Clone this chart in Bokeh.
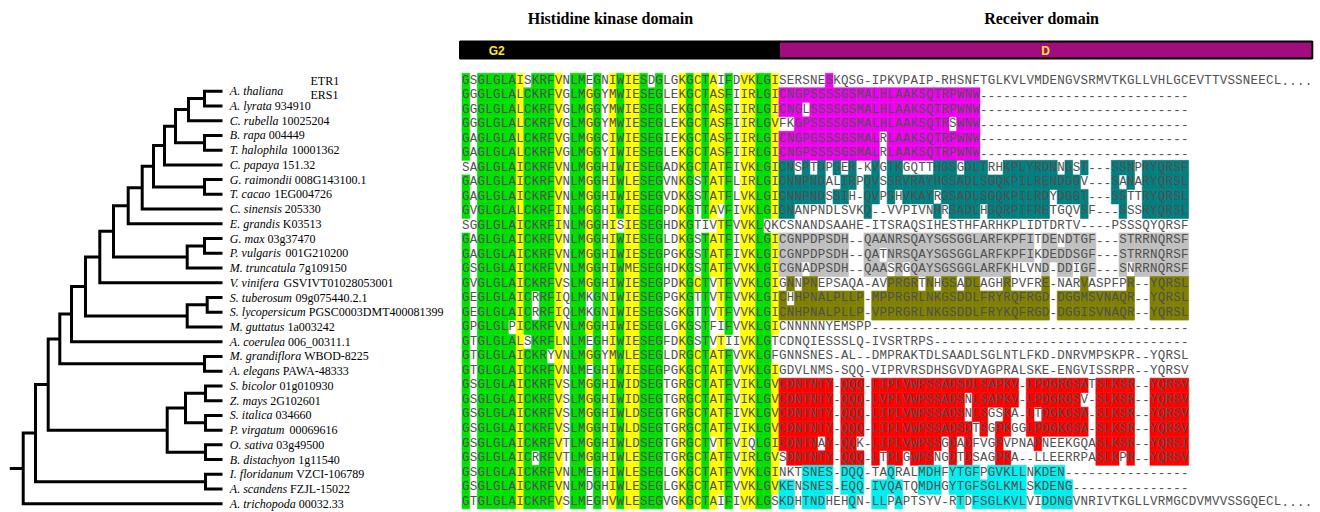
import re
from collections import Counter
from bokeh.plotting import figure
from bokeh.models import Range1d, ColumnDataSource
from bokeh.embed import file_html
from bokeh.resources import INLINE
from bokeh.core.properties import value

# ---------------------------------------------------------------- data
SPECIES = ["A. thaliana", "A. lyrata", "C. rubella", "B. rapa", "T. halophila",
           "C. papaya", "G. raimondii", "T. cacao", "C. sinensis", "E. grandis",
           "G. max", "P. vulgaris", "M. truncatula", "V. vinifera", "S. tuberosum",
           "S. lycopersicum", "M. guttatus", "A. coerulea", "M. grandiflora",
           "A. elegans", "S. bicolor", "Z. mays", "S. italica", "P. virgatum",
           "O. sativa", "B. distachyon", "I. floridanum", "A. scandens",
           "A. trichopoda"]
ACCESSIONS = ["", "934910", "10025204", "004449", "10001362", "151.32",
              "008G143100.1", "1EG004726", "205330", "K03513", "03g37470",
              "001G210200", "7g109150", "GSVIVT01028053001", "09g075440.2.1",
              "PGSC0003DMT400081399", "1a003242", "006_00311.1", "WBOD-8225",
              "PAWA-48333", "01g010930", "2G102601", "034660", "00069616",
              "03g49500", "1g11540", "VZCI-106789", "FZJL-15022", "00032.33"]
PARALOGS = ["ETR1", "ERS1"]

# leaves are indices into SPECIES, branch lengths in tree units
TREE_NEWICK = ("(((((((((((((((0:18,1:18):16,2:34):13,(3:18,4:18):29):11,5:58):11,"
               "(6:18,7:18):51):11.3,8:80.3):14,9:94.3):14.7,((10:18,11:18):17.3,"
               "12:35.3):73.7):13.7,13:122.7):14.3,((14:15.3,15:15.3):20,16:35.3)"
               ":101.7):14,17:151):11.7,(18:18,19:18):144.7):11.6,(((20:17,21:17)"
               ":20,(22:17,23:17):20):18.3,(24:17,25:17):38.3):119):12.7,"
               "(26:17,27:17):170):12.3,28:199.3);")

HK_SEQS = [
    "GSGLGLAISKRFVNLMEGNIWIESDGLGKGCTAIFDVKLGI",
    "GGGLGLALCKRFVGLMGGYMWIESEGLEKGCTASFIIRLGI",
    "GGGLGLALCKRFVGLMGGYMWIESEGLEKGCTASFIIRLGI",
    "GGGLGLALCKRFVGLMGGYMWIESEGLEKGCTASFIIRLGV",
    "GAGLGLALCKRFVGLMGGCIWIESEGIEKGCTASFIIRLGI",
    "GAGLGLALCKRFVGLMGGYIWIESEGLEKGCTASFIIRLGI",
    "SAGLGLAICKRFVNLMGGHIWIESEGADKGCTATFIVKLGI",
    "GAGLGLAICKRFVNLMGGHIWLESEGVNKGSTATFLIRLGI",
    "GAGLGLAICKRFVNLMGGHIWIESEGVDKGSTATFLVKLGI",
    "GVGLGLALCKRFINLMGGHIWIESEGPDKGTTAVFIVKLGI",
    "SGGLGLAICKRFINLMGGHISIESEGHDKGTIVTFVVKLQK",
    "GAGLGLAICKRFVNLMGGHIWIESEGLDKGSTATFIVKLGI",
    "GAGLGLAICKRFVNLMGGHIWIESEGPGKGSTATFIVKLGI",
    "GSGLGLAICKRFVNLMGGHIWMESEGHDKGSTATFVVKLGI",
    "GVGLGLAICKRFVSLMGGHIWIESEGPDKGCTVTFVVKLGI",
    "GEGLGLAICRRFIQLMKGNIWIESEGPGKGTTVTFVVKLGI",
    "GEGLGLAICRRFIQLMKGNIWIESEGSGKGTTVTFVVKLGI",
    "GPGLGLPICKRFVNLMGGHIWIESEGLGKGSTFIFVVKLGI",
    "GTGLGLALSKRFLNLMEGHIWIESEGFDKGSTVTIIVKLGT",
    "GTGLGLAICKRYVNLMGGYMWLESEGLDRGCTATFVVKLGF",
    "GTGLGLAICKRFVNLMEGHIWIESEGPGKGCTATFVVKLGI",
    "GSGLGLAICKRFVSLMGGHIWIDSEGTGRGCTATFVIKLGV",
    "GSGLGLAICKRFVSLMGGHIWIDSEGTGRGCTATFVIKLGV",
    "GSGLGLAICKRFVSLMGGHIWLDSEGTGRGCTATFIVKLGV",
    "GSGLGLAICKRFVSLMGGHIWLDSEGTGRGCTATFVIKLGV",
    "GSGLGLAICKRFVTLMGGHIWLDSEGTGRGCTVTFVIQLGI",
    "GSGLGLAICRRFVTLMGGHIWLESEGTGRGCTATFVIRLGV",
    "GSGLGLAICKRFVNLMEGHIWLESEGLGKGCTATFVVKLGI",
    "GSGLGLAICKRFVNLMDGHIWLESEGLGKGCTATFVVKLGV",
    "GTGLGLAICKRFVSLMEGHVWLESEGVGKGCTAIFIVKLGS",
]
RC_SEQS = [
    "SERSNESKQSG-IPKVPAIP-RHSNFTGLKVLVMDENGVSRMVTKGLLVHLGCEVTTVSSNEECL....",
    "CNGPSSSSGSMALHLAAKSQTRPWNW" + "-" * 27,
    "CNGLSSSSGSMALHLAAKSQTRPWNW" + "-" * 27,
    "FKGPSSSSGSMALHLAAKSQTRSWNW" + "-" * 27,
    "CNGPGSSSGSMALRLAAKSQTRPWNW" + "-" * 27,
    "CNGPSSSSGSMALRLAAKSQTRPWNW" + "-" * 27,
    "CNSPTDPSER-KVGTKGQTTHGSGDLTRHKPLYRDNNGST---SSNPRYQRSF",
    "CNNPNDALIRPQVSSRVRAYHGSADLSGQKPILRENDGGV---SANARYQRSL",
    "CNNPNDSSIH-QVPSHVKAYRGSADLSGQKPILRDYDGGT---SSTTRYQRSL",
    "CNANPNDLSVKQ--VVPIVNHRSADLHGQRPIFRETGQVSF---SSSRYQRSL",
    "CSNANDSAAHE-ITSRAQSIHESTHFARHKPLIDTDRTV----PSSSQYQRSF",
    "CGNPDPSDH--QAANRSQAYSGSGGLARFKPFITDENDTGF---STRRNQRSF",
    "CGNPDPSDH--QATNRSQAYSGSGGLARFKPFIKDEDDSGF---STRRNQRSF",
    "CGNADPSDH--QAASRGQAYSGSGGLARFKHLVND-DDIGF---SNRRNQRSF",
    "GNNPNEPSAQA-AVPRGRTNHGSADLAGHRPVFRE-NARVASPFPR--YQRSL",
    "CHHPNALPLLP-MPPRGRLNKGSDDLFRYRQFRGD-DGGMSVNAQR--YQRSL",
    "CNHPNALPLLP-VPPRGRLNKGSDDLFRYKQFRGD-DGGISVNAQR--YQRSL",
    "CNNNNNYEMSPP" + "-" * 41,
    "CDNQIESSSLQ-IVSRTRPS" + "-" * 33,
    "GNNSNES-AL--DMPRAKTDLSAADLSGLNTLFKD-DNRVMPSKPR--YQRSL",
    "GDVLNMS-SQQ-VIPRVRSDHSGVDYAGPRALSKE-ENGVISSRPR--YQRSV",
    "CDNTNTY-QQQ-LIPLVWPSSADSDLSAPKV-LPDGRGSATSLKSR--YQRSV",
    "CDNTNTY-QQQ-LVPLVWPSSADSNLSAPKV-LPDGRGSV-SLKSR--YQRSV",
    "CDNTNTY-QQQ-LIPLVWPSSADSNLSGSKA-LTDGKGSA-SLKSR--YQRSV",
    "CDNTNTY-QQQ-LIPLVWPSSADSDTSGPKGGLPDGKGSA-SLKSR--YQRSV",
    "CDNTNAY-QQK-LIPLVWPSSGDADFVGPVPNAPNEEKGQASLKSR--YQRSI",
    "SDNTNTY-QQQ-LTPLGWPSNGDTDSAGPKA--LLEERRPASLKPR--YQRSV",
    "NKTSNES-DQQ-TAQRALMDHFYTGFPGVKLLNKDEN" + "-" * 16,
    "KENSNES-EQQ-IVQATQMDHGYTGFSGLKMLSKDENG" + "-" * 15,
    "KDHTNDHEHQN-LLPAPTSYV-RTDFSGLKVLVIDDNGVNRIVTKGLLVRMGCDVMVVSSGQECL....",
]
# shading class of each kinase-domain column: G = identical, Y = similar, W = none
HK_COLUMN_CLASS = "GWGGGGGYGGGGYWGGYGWYGYYGGGWWYGYGYYGWYYGGY"
SIMILAR_GROUPS = ["ILVM", "KR", "DE", "ST", "FYW", "NQ"]
# receiver-domain subfamily shading: group of each row and the shaded residues
RC_GROUP = (["magenta"] * 6 + ["teal"] * 4 + [None] + ["gray"] * 3 + ["olive"] * 3
            + [None] * 4 + ["red"] * 6 + ["cyan"] * 3)
RC_MASKS = [
    "6", "0-25", "0-2,4-25", "2-21,23-25", "0-12,14-25", "0-12,14-25",
    "0-1,3,5,7,9,12,14-15,20-22,24-26,29-35,37,39,43-45,47-52",
    "0-5,8-9,11-12,14-38,43,45,47-52",
    "0-5,7-8,11-12,14,16-19,21-34,36-39,43-44,47-52",
    "0-1,11,20,22-25,27-34,39,44,47-52",
    "",
    "0-8,11-32,34-35,37-40,44-52",
    "0-8,11-12,14-32,34-40,44-52",
    "0-2,4-8,11-13,15,17-29,34,36-37,39-40,44,46-52",
    "1,3-4,14-17,19,21-22,24-25,29,34,39,45,48-52",
    "0,2-10,12-34,36-45,48-52",
    "0-10,12-34,36-45,48-52",
    "", "", "", "",
    "0-6,8-10,12-30,32-39,41-45,48-52",
    "0-6,8-10,12-23,25-30,32-38,41-45,48-52",
    "0-6,8-10,12-23,25-26,29,32,34-39,41-45,48-52",
    "0-6,8-10,12-24,26,28-29,32-39,41-45,48-52",
    "0-4,6,8-9,12-20,22,24,28,33,41-45,48-52",
    "1-6,8-10,12,14-15,17-19,22,24,28-29,41-43,45,48-52",
    "3-6,8-10,14,18-20,22-25,27-31,33-36",
    "0-1,3-6,8-10,12-15,18-20,22-31,33-37",
    "0-1,3-5,9,12-13,15,23,25-31,34-37",
]
DOMAIN_TITLES = ["Histidine kinase domain", "Receiver domain"]
DOMAIN_COLS = [(0, 40), (41, 109)]
DOMAIN_TITLE_COL = [19.2, 75.0]
MOTIF_LABELS = ["G2", "D"]
MOTIF_COLS = [(2, 6), (75, 75)]

# ---------------------------------------------------------------- style / layout
W, H = 1320, 512
X0, CW = 461.5, 7.73          # alignment origin and column width
Y0, RH = 80.0, 14.52           # first row centre and row height
LEAF_Y0, LEAF_DY = 90.7, 14.736
ROOT_X, STUB = 22.7, 13.4
LABEL_X = 229.3
LABEL_PX = 12
BAR_TOP, BAR_BOT = 41.0, 58.0
TEXT_GRAY = "#505050"
GREEN, YELLOW = "#00e000", "#ffff00"
GROUP_COLORS = {"magenta": "#f000f0", "teal": "#008080", "gray": "#c0c0c0",
                "olive": "#808000", "red": "#ff0000", "cyan": "#00eeee"}
DOMAIN_FILL = ["#000000", "#a20c7f"]

# Times-italic advance widths (1/1000 em) for placing accession after the name
TIMES_ITALIC = {' ': 250, '.': 250, 'A': 611, 'B': 611, 'C': 667, 'E': 611, 'G': 722,
                'I': 333, 'M': 833, 'O': 722, 'P': 611, 'S': 500, 'T': 556, 'V': 611,
                'Z': 556, 'a': 500, 'b': 500, 'c': 444, 'd': 500, 'e': 444, 'f': 278,
                'g': 500, 'h': 500, 'i': 278, 'j': 278, 'k': 444, 'l': 278, 'm': 722,
                'n': 500, 'o': 500, 'p': 500, 'q': 500, 'r': 389, 's': 389, 't': 278,
                'u': 500, 'v': 444, 'w': 667, 'x': 444, 'y': 444, 'z': 389}


def text_width(s, px):
    return sum(TIMES_ITALIC.get(ch, 500) for ch in s) * px / 1000.0


def parse_newick(s):
    pos = 0

    def node():
        nonlocal pos
        n = {"children": [], "leaf": None, "bl": 0.0}
        if s[pos] == "(":
            pos += 1
            while True:
                n["children"].append(node())
                if s[pos] == ",":
                    pos += 1
                else:
                    pos += 1
                    break
        else:
            m = re.match(r"[^:,();]+", s[pos:])
            n["leaf"] = int(m.group(0))
            pos += m.end()
        if pos < len(s) and s[pos] == ":":
            m = re.match(r":([0-9.]+)", s[pos:])
            n["bl"] = float(m.group(1))
            pos += m.end()
        return n

    return node()


def place(n, x):
    n["x"] = x
    if n["leaf"] is not None:
        n["y"] = LEAF_Y0 + n["leaf"] * LEAF_DY
    else:
        for c in n["children"]:
            place(c, x + c["bl"])
        n["y"] = (n["children"][0]["y"] + n["children"][-1]["y"]) / 2.0


def parse_spec(spec):
    out = set()
    for part in spec.split(","):
        if not part:
            continue
        if "-" in part:
            a, b = part.split("-")
            out.update(range(int(a), int(b) + 1))
        else:
            out.add(int(part))
    return out


def similar(a, b):
    return any(a in g and b in g for g in SIMILAR_GROUPS)


p = figure(width=W, height=H, x_range=Range1d(0, W), y_range=Range1d(H, 0),
           output_backend="svg", toolbar_location=None, min_border=0,
           x_axis_location=None, y_axis_location=None)
p.grid.visible = False
p.outline_line_color = None
p.background_fill_color = "white"
p.border_fill_color = "white"

# ---------------------------------------------------------------- tree
root = parse_newick(TREE_NEWICK)
place(root, ROOT_X)
xs, ys = [[ROOT_X - STUB, ROOT_X]], [[root["y"], root["y"]]]


def collect(n):
    if n["leaf"] is not None:
        return
    c0, c1 = n["children"][0], n["children"][-1]
    xs.append([c0["x"], n["x"], n["x"], c1["x"]])
    ys.append([c0["y"], c0["y"], c1["y"], c1["y"]])
    for c in n["children"]:
        collect(c)


collect(root)
p.multi_line(xs, ys, line_color="black", line_width=3, line_join="miter", line_cap="butt")

leaf_y = [LEAF_Y0 + i * LEAF_DY for i in range(len(SPECIES))]
p.text(x=[LABEL_X] * len(SPECIES), y=leaf_y, text=SPECIES,
       text_font=value("Liberation Serif"), text_font_style="italic",
       text_font_size=f"{LABEL_PX}px", text_baseline="middle", text_align="left",
       text_color="black")
acc_x = [LABEL_X + text_width(s + " ", LABEL_PX) for s in SPECIES]
p.text(x=acc_x, y=leaf_y, text=ACCESSIONS, text_font=value("Liberation Serif"),
       text_font_size=f"{LABEL_PX}px", text_baseline="middle", text_align="left",
       text_color="black")
p.text(x=[310.0] * len(PARALOGS), y=[Y0 + i * RH for i in range(len(PARALOGS))],
       text=PARALOGS, text_font=value("Liberation Serif"), text_font_size=f"{LABEL_PX}px",
       text_baseline="middle", text_align="left", text_color="black")

# ---------------------------------------------------------------- alignment shading
nhk = len(HK_SEQS[0])
majority = [Counter(s[c] for s in HK_SEQS).most_common(1)[0][0] for c in range(nhk)]
ql, qr, qt, qb, qc = [], [], [], [], []


def add_cell(r, c, color):
    y = Y0 + r * RH
    ql.append(X0 + c * CW)
    qr.append(X0 + (c + 1) * CW)
    qt.append(y - RH / 2)
    qb.append(y + RH / 2)
    qc.append(color)


for r, seq in enumerate(HK_SEQS):
    for c, ch in enumerate(seq):
        cls = HK_COLUMN_CLASS[c]
        if cls == "G" and ch == majority[c]:
            add_cell(r, c, GREEN)
        elif cls == "Y" and (ch == majority[c] or similar(ch, majority[c])):
            add_cell(r, c, YELLOW)

for r, seq in enumerate(RC_SEQS):
    grp = RC_GROUP[r]
    if grp is None:
        continue
    for k in sorted(parse_spec(RC_MASKS[r])):
        if k < len(seq) and seq[k] != "-":
            add_cell(r, nhk + k, GROUP_COLORS[grp])

p.quad(left=ql, right=qr, top=qt, bottom=qb, fill_color=qc, line_color=qc, line_width=0.6)

# ---------------------------------------------------------------- alignment letters
tx, ty, tt = [], [], []
for r in range(len(HK_SEQS)):
    full = HK_SEQS[r] + RC_SEQS[r]
    for c, ch in enumerate(full):
        tx.append(X0 + (c + 0.5) * CW)
        ty.append(Y0 + r * RH)
        tt.append(ch)
p.text(x="x", y="y", text="t", source=ColumnDataSource(dict(x=tx, y=ty, t=tt)),
       text_font=value("Liberation Mono"), text_font_size="12.5px",
       text_color=TEXT_GRAY, text_align="center", text_baseline="middle")

# ---------------------------------------------------------------- domain header
for i, (a, b) in enumerate(DOMAIN_COLS):
    left = X0 + a * CW - (2 if i == 0 else 0)
    p.quad(left=[left], right=[X0 + (b + 1) * CW], top=[BAR_TOP], bottom=[BAR_BOT],
           fill_color=DOMAIN_FILL[i], line_color="black", line_width=2)
p.text(x=[X0 + (a + b + 1) / 2.0 * CW for a, b in MOTIF_COLS],
       y=[(BAR_TOP + BAR_BOT) / 2 + 1] * len(MOTIF_LABELS), text=MOTIF_LABELS,
       text_font=value("Liberation Sans"), text_font_style="bold", text_font_size="12px",
       text_color="#ffe81a", text_align="center", text_baseline="middle")
p.text(x=[X0 + c * CW for c in DOMAIN_TITLE_COL], y=[18.0] * len(DOMAIN_TITLES),
       text=DOMAIN_TITLES, text_font=value("Liberation Serif"), text_font_style="bold",
       text_font_size="16px", text_color="black", text_align="center",
       text_baseline="middle")

open("out.html", "w").write(file_html(p, INLINE))
